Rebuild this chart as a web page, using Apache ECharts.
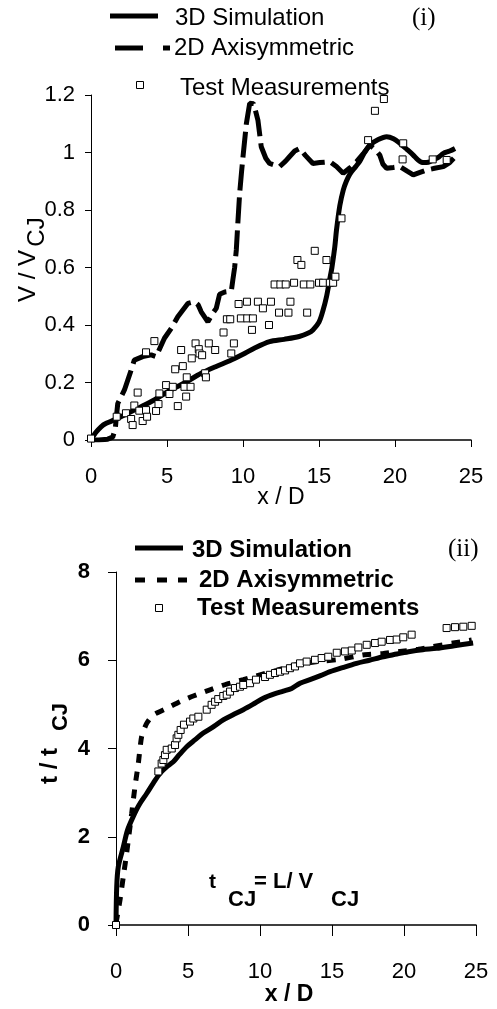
<!DOCTYPE html>
<html>
<head>
<meta charset="utf-8">
<script src="https://cdn.jsdelivr.net/npm/echarts@6/dist/echarts.min.js"></script>
<style>
html,body{margin:0;padding:0;background:#fff;}
#chart{width:497px;height:1009px;}
</style>
</head>
<body>
<div id="chart"></div>
<script>
// ---------- Panel (i): V / VCJ vs x / D ----------
const sim3DTop = [[0,0],[0.3,0.025],[0.66,0.046],[1.0,0.058],[1.54,0.07],[2.2,0.087],[2.85,0.104],[4.0,0.135],[5.05,0.168],[6.2,0.2],[7.25,0.232],[8.2,0.255],[9.23,0.278],[10.0,0.298],[10.77,0.32],[11.75,0.342],[12.7,0.35],[13.7,0.36],[14.3,0.372],[14.6,0.383],[15.0,0.41],[15.27,0.452],[15.5,0.5],[15.7,0.557],[15.85,0.6],[16.04,0.672],[16.15,0.73],[16.37,0.815],[16.6,0.87],[16.8,0.9],[17.03,0.925],[17.4,0.95],[17.69,0.97],[18.0,1.0],[18.35,1.026],[18.9,1.045],[19.45,1.055],[19.9,1.048],[20.32,1.032],[20.8,1.01],[21.2,0.991],[21.5,0.975],[21.86,0.965],[22.2,0.966],[22.52,0.974],[22.9,0.985],[23.18,0.997],[23.6,1.005],[23.95,1.014]];
const axi2DTop = [[0,0],[0.5,0.0],[1.1,0.003],[1.43,0.01],[1.6,0.04],[1.65,0.07],[1.76,0.127],[2.2,0.174],[2.64,0.243],[2.85,0.278],[3.4,0.29],[3.96,0.296],[4.28,0.29],[4.83,0.354],[5.3,0.39],[5.71,0.429],[6.37,0.475],[6.81,0.481],[7.05,0.47],[7.25,0.446],[7.69,0.411],[8.0,0.44],[8.24,0.458],[8.46,0.507],[8.8,0.515],[9.23,0.518],[9.34,0.56],[9.45,0.6],[9.56,0.661],[9.66,0.754],[9.78,0.858],[9.9,0.93],[10.0,0.985],[10.22,1.1],[10.44,1.171],[10.7,1.17],[10.98,1.113],[11.2,1.02],[11.5,0.98],[11.75,0.962],[12.41,0.951],[12.8,0.97],[13.07,0.986],[13.4,1.005],[13.73,1.014],[14.1,0.99],[14.6,0.962],[15.05,0.965],[15.71,0.968],[16.15,0.951],[16.59,0.928],[17.0,0.945],[17.47,0.968],[17.9,0.995],[18.35,1.026],[18.7,1.01],[19.0,0.991],[19.2,0.96],[19.45,0.945],[19.9,0.948],[20.32,0.951],[20.8,0.935],[21.2,0.922],[21.6,0.93],[22.08,0.939],[22.6,0.945],[23.18,0.951],[23.6,0.965],[24.06,0.991]];
const testTop = [[0,0.005],[1.69,0.081],[2.3,0.093],[2.64,0.073],[2.74,0.052],[2.85,0.12],[3.07,0.165],[3.18,0.102],[3.4,0.066],[3.62,0.104],[3.69,0.081],[3.62,0.305],[4.17,0.344],[4.28,0.101],[4.44,0.125],[4.5,0.162],[4.94,0.191],[5.16,0.16],[5.38,0.185],[5.54,0.246],[5.71,0.118],[5.93,0.313],[6.04,0.257],[6.15,0.185],[6.3,0.218],[6.26,0.151],[6.55,0.185],[6.63,0.284],[6.88,0.336],[7.09,0.316],[7.14,0.301],[7.31,0.295],[7.51,0.232],[7.56,0.218],[7.75,0.336],[8.17,0.313],[8.72,0.374],[8.94,0.42],[9.16,0.42],[9.23,0.301],[9.4,0.336],[9.71,0.473],[9.86,0.423],[10.26,0.481],[10.28,0.423],[10.59,0.383],[10.65,0.423],[10.98,0.481],[11.31,0.458],[11.71,0.4],[11.84,0.481],[12.08,0.541],[12.37,0.443],[12.46,0.541],[12.81,0.541],[12.99,0.443],[13.12,0.481],[13.36,0.547],[13.58,0.626],[13.84,0.609],[14.0,0.541],[14.22,0.443],[14.43,0.541],[14.72,0.658],[15.0,0.547],[15.27,0.547],[15.49,0.626],[15.71,0.547],[15.93,0.547],[16.08,0.568],[16.48,0.771],[18.23,1.043],[18.68,1.145],[19.27,1.186],[20.54,1.032],[20.5,0.976],[22.48,0.976],[23.4,0.974]];

// ---------- Panel (ii): t / tCJ vs x / D ----------
const sim3DBot = [[0,0],[0.05,0.87],[0.16,1.32],[0.51,1.77],[0.8,2.15],[1.2,2.46],[1.6,2.72],[2.13,2.98],[2.6,3.22],[3.06,3.44],[3.5,3.58],[3.98,3.7],[4.4,3.86],[4.91,4.04],[5.5,4.2],[6.06,4.35],[6.8,4.5],[7.45,4.65],[8.1,4.76],[8.84,4.88],[9.5,5.0],[10.23,5.14],[11.0,5.24],[11.62,5.3],[12.2,5.36],[12.78,5.48],[13.47,5.56],[14.2,5.65],[14.86,5.74],[15.8,5.84],[16.71,5.93],[17.6,6.0],[18.56,6.08],[19.5,6.14],[20.42,6.2],[21.3,6.24],[22.27,6.27],[23.5,6.33],[24.8,6.39]];
const axi2DBot = [[0,0.04],[0.28,0.57],[0.51,1.1],[0.74,1.63],[1.09,2.53],[1.32,3.14],[1.55,3.66],[1.78,4.27],[2.13,4.57],[2.59,4.76],[3.52,4.91],[4.44,5.06],[5.37,5.19],[6.53,5.33],[7.69,5.46],[8.84,5.56],[10.0,5.67],[11.16,5.77],[12.55,5.9],[14.0,5.97],[15.56,6.02],[17.17,6.12],[18.5,6.15],[19.72,6.2],[21.0,6.25],[22.03,6.31],[23.42,6.39],[24.7,6.46]];
const testBot = [[0,0],[2.94,3.48],[3.17,3.66],[3.29,3.74],[3.4,3.85],[3.52,3.97],[3.87,4.0],[4.1,4.08],[4.21,4.23],[4.33,4.31],[4.49,4.42],[4.72,4.54],[5.14,4.61],[5.37,4.68],[5.72,4.72],[6.3,4.88],[6.64,4.99],[6.88,5.06],[7.1,5.12],[7.45,5.19],[7.69,5.22],[7.92,5.29],[8.26,5.37],[8.61,5.4],[8.84,5.44],[9.31,5.48],[9.72,5.56],[10.35,5.62],[10.69,5.67],[11.04,5.71],[11.39,5.74],[11.74,5.77],[12.08,5.82],[12.43,5.86],[12.78,5.93],[13.24,5.97],[13.82,6.01],[14.28,6.05],[14.74,6.08],[15.33,6.17],[15.9,6.2],[16.37,6.22],[16.83,6.29],[17.41,6.35],[17.99,6.39],[18.45,6.42],[19.03,6.46],[19.49,6.47],[19.95,6.52],[20.53,6.58],[22.96,6.73],[23.54,6.75],[24.12,6.76],[24.7,6.78]];

const seriesNames = ['3D Simulation', '2D Axisymmetric', 'Test Measurements'];
const panelTags = ['(i)', '(ii)'];

const SANS = '"Liberation Sans", Arial, sans-serif';
const SERIF = '"Liberation Serif", "Times New Roman", serif';

const chart = echarts.init(document.getElementById('chart'));

function txt(x, y, text, size, opts) {
  opts = opts || {};
  return {
    type: 'text', x: x, y: y, rotation: opts.rot || 0, z: 100,
    style: {
      text: text, fill: '#000',
      font: (opts.bold ? 'bold ' : '') + size + 'px ' + (opts.serif ? SERIF : SANS),
      textAlign: opts.align || 'left', textVerticalAlign: 'middle'
    }
  };
}
function seg(x1, y1, x2, y2, w) {
  return { type: 'line', z: 100, shape: {x1:x1, y1:y1, x2:x2, y2:y2}, style: {stroke:'#000', lineWidth:w} };
}
function box(cx, cy, s) {
  return { type: 'rect', z: 100, shape: {x: cx - s/2, y: cy - s/2, width: s, height: s}, style: {fill:'#fff', stroke:'#000', lineWidth:1} };
}

const graphics = [
  // legend (i)
  seg(110, 16, 158, 16, 5), txt(175, 18, seriesNames[0], 24),
  seg(115, 48, 143, 48, 5), seg(163, 48, 170, 48, 5), txt(174, 48, seriesNames[1], 24),
  box(140, 85, 7), txt(180, 88, seriesNames[2], 24),
  txt(412, 18, panelTags[0], 25, {serif: true}),
  // axis titles (i)
  txt(281, 498, 'x / D', 23, {align: 'center'}),
  txt(28, 276, 'V / V', 24, {align: 'center', rot: Math.PI/2}),
  txt(37, 232, 'CJ', 24, {align: 'center', rot: Math.PI/2}),
  // legend (ii)
  seg(135, 548, 183, 548, 5), txt(192, 550, seriesNames[0], 24, {bold: true}),
  seg(135, 580, 145, 580, 5), seg(157, 580, 167, 580, 5), seg(178, 580, 187, 580, 5),
  txt(199, 580, seriesNames[1], 24, {bold: true}),
  box(159, 608, 7), txt(197, 608, seriesNames[2], 24, {bold: true}),
  txt(448, 549, panelTags[1], 25, {serif: true}),
  // axis titles (ii)
  txt(289, 995, 'x / D', 23, {align: 'center', bold: true}),
  txt(50, 766, 't / t', 24, {align: 'center', rot: Math.PI/2, bold: true}),
  txt(61, 717, 'CJ', 22, {align: 'center', rot: Math.PI/2, bold: true}),
  // annotation
  txt(209, 882, 't', 21, {bold: true}),
  txt(228, 900, 'CJ', 22, {bold: true}),
  txt(254, 882, '= L/ V', 22, {bold: true}),
  txt(331, 900, 'CJ', 22, {bold: true})
];

function xAx(grid, tickLen, margin) {
  return {
    type: 'value', gridIndex: grid, min: 0, max: 25, interval: 5,
    axisLine: {show: true, onZero: false, lineStyle: {color: '#000', width: 1.5}},
    axisTick: {show: true, inside: false, length: tickLen, lineStyle: {color: '#000', width: 1}},
    axisLabel: {color: '#000', fontSize: 22, fontFamily: SANS, margin: margin},
    splitLine: {show: false}
  };
}

const option = {
  animation: false,
  backgroundColor: '#fff',
  grid: [
    {left: 91, top: 95, width: 380, height: 345},
    {left: 116, top: 572, width: 360, height: 353}
  ],
  xAxis: [xAx(0, 7, 26), xAx(1, 11, 36)],
  yAxis: [
    {
      type: 'value', gridIndex: 0, min: 0, max: 1.2, interval: 0.2,
      axisLine: {show: true, onZero: false, lineStyle: {color: '#000', width: 1}},
      axisTick: {show: true, length: 6, lineStyle: {color: '#000'}},
      axisLabel: {color: '#000', fontSize: 22, fontFamily: SANS, margin: 16},
      splitLine: {show: false}
    },
    {
      type: 'value', gridIndex: 1, min: 0, max: 8, interval: 2,
      axisLine: {show: true, onZero: false, lineStyle: {color: '#000', width: 1}},
      axisTick: {show: true, length: 8, lineStyle: {color: '#000'}},
      axisLabel: {color: '#000', fontSize: 22, fontWeight: 'bold', fontFamily: SANS, margin: 26},
      splitLine: {show: false}
    }
  ],
  series: [
    {name: seriesNames[0], type: 'line', xAxisIndex: 0, yAxisIndex: 0, data: sim3DTop, showSymbol: false, smooth: 0.3,
     lineStyle: {color: '#000', width: 5}, z: 3},
    {name: seriesNames[1], type: 'line', xAxisIndex: 0, yAxisIndex: 0, data: axi2DTop, showSymbol: false, smooth: false,
     lineStyle: {color: '#000', width: 5, type: [26, 7]}, z: 3},
    {name: seriesNames[2], type: 'scatter', xAxisIndex: 0, yAxisIndex: 0, data: testTop, symbol: 'rect', symbolSize: 7,
     itemStyle: {color: '#fff', borderColor: '#000', borderWidth: 1, opacity: 1}, z: 4},
    {name: seriesNames[0], type: 'line', xAxisIndex: 1, yAxisIndex: 1, data: sim3DBot, showSymbol: false, smooth: 0.3,
     lineStyle: {color: '#000', width: 5}, z: 3},
    {name: seriesNames[1], type: 'line', xAxisIndex: 1, yAxisIndex: 1, data: axi2DBot, showSymbol: false, smooth: 0.2,
     lineStyle: {color: '#000', width: 5, type: [9, 9]}, z: 3},
    {name: seriesNames[2], type: 'scatter', xAxisIndex: 1, yAxisIndex: 1, data: testBot, symbol: 'rect', symbolSize: 7,
     itemStyle: {color: '#fff', borderColor: '#000', borderWidth: 1, opacity: 1}, z: 4}
  ],
  graphic: graphics
};
chart.setOption(option);
</script>
</body>
</html>
